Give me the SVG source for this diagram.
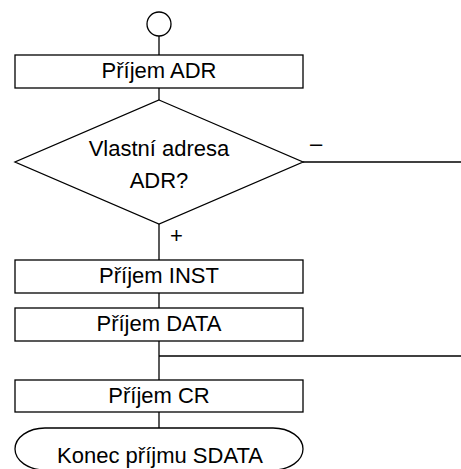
<svg xmlns="http://www.w3.org/2000/svg" width="461" height="469" viewBox="0 0 461 469">
<style>
.s{fill:#fff;stroke:#000;stroke-width:1.3}
.l{fill:none;stroke:#000;stroke-width:1.3}
text{font-family:"Liberation Sans",Arial,sans-serif;font-size:22px;fill:#000}
.c{text-anchor:middle}
</style>
<rect width="461" height="469" fill="#fff"/>
<g id="connectors">
<line class="l" x1="159" y1="36" x2="159" y2="55"/>
<line class="l" x1="159" y1="88" x2="159" y2="100"/>
<line class="l" x1="303" y1="162" x2="461" y2="162"/>
<line class="l" x1="159" y1="224" x2="159" y2="260"/>
<line class="l" x1="159" y1="293" x2="159" y2="308"/>
<line class="l" x1="159" y1="341" x2="159" y2="380"/>
<line class="l" x1="159" y1="356" x2="461" y2="356"/>
<line class="l" x1="159" y1="412" x2="159" y2="428"/>
<text x="310" y="151">–</text>
<text x="170" y="243">+</text>
</g>
<g id="start"><circle class="s" cx="159" cy="24" r="12"/></g>
<g id="prijemADR"><rect class="s" x="15" y="55" width="288" height="33"/><text class="c" x="159" y="78">Příjem ADR</text></g>
<g id="decision"><polygon class="s" points="159,100 303,162 159,224 15,162"/><text class="c" x="159" y="156">Vlastní adresa</text><text class="c" x="159" y="188">ADR?</text></g>
<g id="prijemINST"><rect class="s" x="15" y="260" width="288" height="33"/><text class="c" x="159" y="283">Příjem INST</text></g>
<g id="prijemDATA"><rect class="s" x="15" y="308" width="288" height="33"/><text class="c" x="159" y="331">Příjem DATA</text></g>
<g id="prijemCR"><rect class="s" x="15" y="380" width="288" height="32"/><text class="c" x="159" y="403">Příjem CR</text></g>
<g id="end"><path class="s" d="M45 428 H273 A30 21 0 0 1 273 470 H45 A30 21 0 0 1 45 428 Z"/><text class="c" x="160" y="463">Konec příjmu SDATA</text></g>
</svg>
